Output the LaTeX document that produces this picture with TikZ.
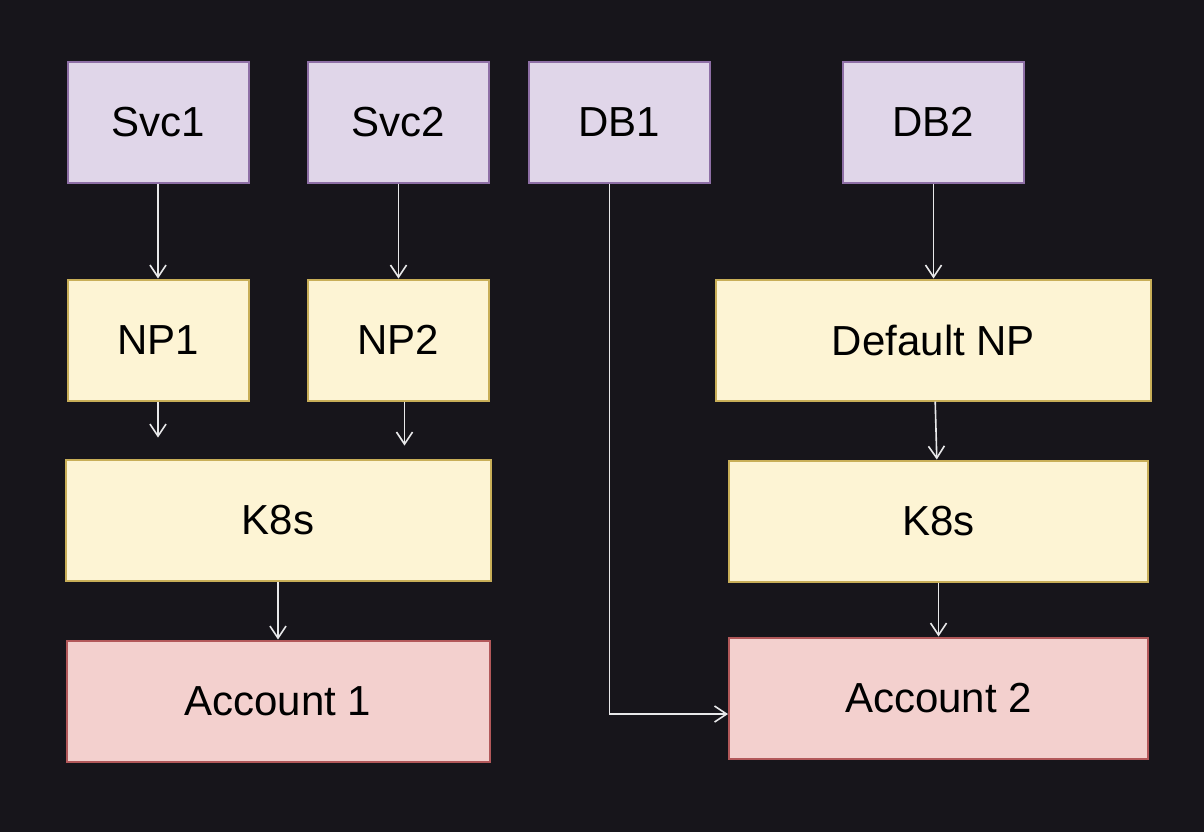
\documentclass[tikz,border=0pt]{standalone}
\usepackage{fontspec}
\setmainfont{Liberation Sans}
\usepackage{xcolor}
\usetikzlibrary{arrows.meta,positioning}

\definecolor{bgcol}{HTML}{17151B}
\definecolor{svcfill}{HTML}{E0D6E9}
\definecolor{svcdraw}{HTML}{8E6FA6}
\definecolor{npfill}{HTML}{FDF4D4}
\definecolor{npdraw}{HTML}{C8AE58}
\definecolor{accfill}{HTML}{F3D0CE}
\definecolor{accdraw}{HTML}{B2585A}
\definecolor{arrcol}{HTML}{E8E8EA}

\begin{document}
\begin{tikzpicture}[
x=0.5pt, y=-0.5pt,
svcnode/.style={rectangle, draw=svcdraw, fill=svcfill, line width=1pt, minimum width=90.5pt, minimum height=60.5pt, font=\fontsize{21}{25}\selectfont},
npnode/.style={rectangle, draw=npdraw, fill=npfill, line width=1pt, minimum width=90.5pt, minimum height=60.5pt, font=\fontsize{21}{25}\selectfont},
accnode/.style={rectangle, draw=accdraw, fill=accfill, line width=1pt, minimum height=60.5pt, font=\fontsize{21}{25}\selectfont},
arr/.style={draw=arrcol, line width=0.8pt, -{Straight Barb[length=6pt,width=8pt]}},
]
%Background
\fill[bgcol] (0,0) rectangle (1204,832);
\useasboundingbox (0,0) rectangle (1204,832);

%Nodes
\node[svcnode]    (svc1)    at (158,122)                  {Svc1};
\node[svcnode]    (svc2)    [right=28.75pt of svc1]       {Svc2};
\node[svcnode]    (db1)     [right=19pt of svc2]          {DB1};
\node[svcnode]    (db2)     [right=65.5pt of db1]         {DB2};
\node[npnode]     (np1)     [below=47.5pt of svc1]        {NP1};
\node[npnode]     (np2)     [below=47.5pt of svc2]        {NP2};
\node[npnode, minimum width=217.5pt] (defnp) [below=47.5pt of db2] {Default NP};
\node[npnode, minimum width=212.5pt] (k8sl)  at (278,520) {K8s};
\node[npnode, minimum width=209.5pt] (k8sr)  [below=29pt of defnp, xshift=2.5pt] {K8s};
\node[accnode, minimum width=211.5pt] (acct1) [below=29pt of k8sl]  {Account 1};
\node[accnode, minimum width=209.5pt] (acct2) [below=27pt of k8sr] {Account 2};

%Free ends
\coordinate[below=18pt of np1.south]             (np1end);
\coordinate[below=22pt of np2.south, xshift=3pt] (np2end);

%Lines
\draw[arr] (svc1) -- (np1);
\draw[arr] (svc2) -- (np2);
\draw[arr] (db2) -- (defnp);
\draw[arr] (np1.south) -- (np1end);
\draw[arr] ([xshift=3pt]np2.south) -- (np2end);
\draw[arr] (defnp) -- (k8sr);
\draw[arr] (k8sl) -- (acct1);
\draw[arr] (k8sr) -- (acct2);
\draw[arr] ([xshift=-5pt]db1.south) |- ([yshift=-8pt]acct2.west);
\end{tikzpicture}
\end{document}
